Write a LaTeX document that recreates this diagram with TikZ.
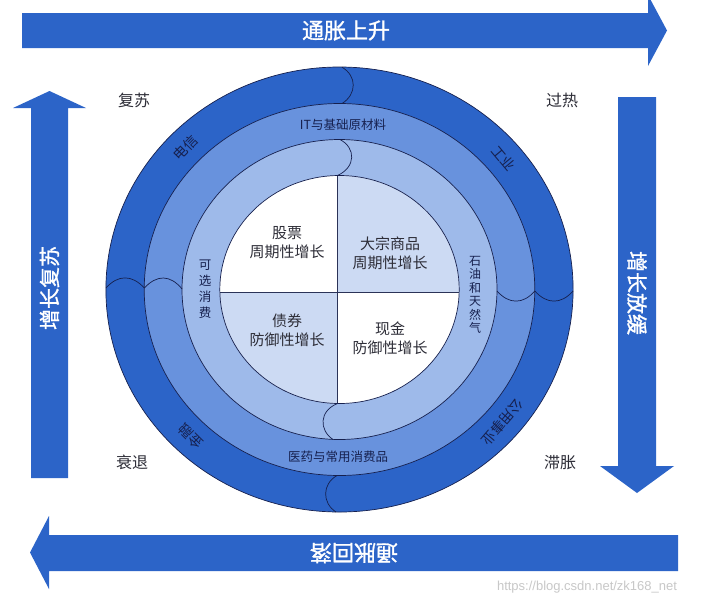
\documentclass[tikz,border=0pt]{standalone}
\usepackage{fontspec}
\setmainfont{Noto Sans CJK SC}
\newfontfamily\arrowfont[FakeBold=1.2]{Noto Sans CJK SC}
\newfontfamily\wmfont{Liberation Sans}
\definecolor{dk}{RGB}{44,100,200}
\definecolor{md}{RGB}{104,146,221}
\definecolor{lt}{RGB}{158,186,234}
\definecolor{pl}{RGB}{204,218,243}
\definecolor{ln}{RGB}{22,32,78}
\definecolor{tx}{RGB}{45,45,55}
\begin{document}
\begin{tikzpicture}[x=1pt,y=1pt,
  ringline/.style={draw=ln,line width=0.7pt},
  crossline/.style={draw=ln!80!gray,line width=0.6pt},
  arrowtxt/.style={text=white,font=\arrowfont\fontsize{22}{22}\selectfont,inner sep=0pt},
  quadtxt/.style={text=tx,align=center,font=\fontsize{15}{19}\selectfont,inner sep=0pt},
  ringtxt/.style={text=ln,align=center,font=\fontsize{12.5}{15}\selectfont,inner sep=0pt},
  vtxt/.style={text=ln,align=center,inner sep=0pt},
  outtxt/.style={text=ln,font=\fontsize{14}{14}\selectfont,inner sep=0pt},
  cornertxt/.style={text=tx,font=\fontsize{16}{16}\selectfont,inner sep=0pt}]
\useasboundingbox (0,0) rectangle (703,-603);
\clip (0,0) rectangle (703,-603);
\fill[white] (0,0) rectangle (703,-603);
% arrows
\fill[dk] (22,-13) -- (648,-13) -- (648,5) -- (667,-30.5) -- (648,-66) -- (648,-48) -- (22,-48) -- cycle;
\node[arrowtxt] (up) at (346,-30.5) {通胀上升};
\fill[dk] (678,-535) -- (49,-535) -- (49,-516) -- (30,-552.5) -- (49,-589) -- (49,-571) -- (678,-571) -- cycle;
\node[arrowtxt,rotate=180] (down) at (354,-553) {通胀回落};
\fill[dk] (31,-478) -- (31,-108) -- (13,-108) -- (49.5,-91) -- (86,-108) -- (68,-108) -- (68,-478) -- cycle;
\node[arrowtxt,rotate=90,font=\arrowfont\fontsize{21}{21}\selectfont] (gl) at (49.5,-288) {增长复苏};
\fill[dk] (618,-97) -- (656,-97) -- (656,-466) -- (674,-466) -- (637,-493) -- (600,-466) -- (618,-466) -- cycle;
\node[arrowtxt,rotate=-90,font=\arrowfont\fontsize{21}{21}\selectfont] (gr) at (637,-293) {增长放缓};
% rings
\coordinate (C) at (339.5,-289.5);
\fill[dk] (C) ellipse [x radius=233.6,y radius=222.5];
\fill[md] (C) ellipse [x radius=195.3,y radius=186];
\fill[lt] (C) ellipse [x radius=157.5,y radius=150];
\fill[white] (C) ellipse [x radius=119.7,y radius=114];
\begin{scope}
\clip (C) ellipse [x radius=119.7,y radius=114];
\fill[pl] (337.5,-292.5) rectangle (470,-170);
\fill[pl] (337.5,-292.5) rectangle (210,-410);
\end{scope}
\draw[ringline] (C) ellipse [x radius=233.6,y radius=222.5];
\draw[ringline] (C) ellipse [x radius=195.3,y radius=186];
\draw[ringline] (C) ellipse [x radius=157.5,y radius=150];
\draw[ringline] (C) ellipse [x radius=119.7,y radius=114];
\draw[crossline] (337.5,-175.5) -- (337.5,-403.5);
\draw[crossline] (219.8,-292.5) -- (459.2,-292.5);
% dividers
\draw[ringline] (342,-67.2) .. controls (357,-76) and (357,-94) .. (342,-103.6);
\draw[ringline] (340,-139.5) .. controls (356,-148) and (356,-167) .. (337.5,-175.5);
\draw[ringline] (337.5,-403.5) .. controls (319,-411) and (319,-430) .. (333,-439.5);
\draw[ringline] (337,-475.5) .. controls (322,-484) and (322,-503) .. (336,-512);
\draw[ringline] (106,-288) .. controls (118,-274.5) and (132,-274.5) .. (144.3,-288);
\draw[ringline] (144.3,-288) .. controls (157,-274.5) and (170,-274.5) .. (182.1,-289);
\draw[ringline] (497,-291) .. controls (509,-304.5) and (523,-304.5) .. (534.8,-291);
\draw[ringline] (534.8,-291) .. controls (547,-304.5) and (561,-304.5) .. (573.1,-291);
% quadrant texts
\node[quadtxt] (q1) at (287,-242.5) {股票\\周期性增长};
\node[quadtxt] (q2) at (390,-253.5) {大宗商品\\周期性增长};
\node[quadtxt] (q3) at (287,-330) {债券\\防御性增长};
\node[quadtxt] (q4) at (390,-338.5) {现金\\防御性增长};
% ring texts
\node[ringtxt] (r1) at (343,-125) {IT与基础原材料};
\node[ringtxt] (r2) at (338,-457) {医药与常用消费品};
\node[vtxt,font=\fontsize{12.5}{16}\selectfont] (r3) at (205,-289) {可\\选\\消\\费};
\node[vtxt,font=\fontsize{12}{13.5}\selectfont] (r4) at (475,-295) {石\\油\\和\\天\\然\\气};
% outer ring texts
\node[outtxt,rotate=46] (o1) at ([shift={(136:214.2 and 204)}]C) {电信};
\node[outtxt,rotate=-50] (o2) at ([shift={(40:214.2 and 204)}]C) {工业};
\node[outtxt,rotate=-130.6] (o3) at ([shift={(-40.6:214.2 and 204)}]C) {公用事业};
\node[outtxt,rotate=135.3] (o4) at ([shift={(-134:214.2 and 204)}]C) {金融};
% corner labels
\node[cornertxt] (c1) at (134,-100) {复苏};
\node[cornertxt] (c2) at (562,-100) {过热};
\node[cornertxt] (c3) at (132,-462) {衰退};
\node[cornertxt] (c4) at (560,-463) {滞胀};
% watermark
\node[text={rgb,255:red,200;green,200;blue,200},font=\wmfont\fontsize{13}{13}\selectfont,inner sep=0pt] (wm) at (587,-587) {https://blog.csdn.net/zk168\_net};
\end{tikzpicture}
\end{document}
